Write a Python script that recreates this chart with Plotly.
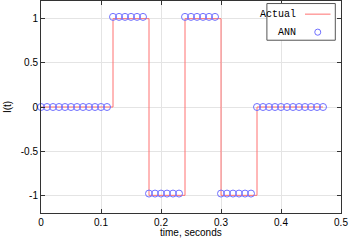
import plotly.graph_objects as go

t = [round(i * 0.01, 2) for i in range(48)]
actual = [0]*12 + [1]*6 + [-1]*6 + [1]*6 + [-1]*6 + [0]*12
ann = [0]*12 + [1.02]*6 + [-0.98]*6 + [1.02]*6 + [-0.98]*6 + [0]*12

xticks = [0, 0.1, 0.2, 0.3, 0.4, 0.5]
yticks = [-1, -0.5, 0, 0.5, 1]

fig = go.Figure()
fig.add_trace(go.Scatter(x=t, y=actual, mode="lines", line=dict(color="#ff7070", width=1, shape="hv"),
                         name="Actual", showlegend=False, cliponaxis=False))
fig.add_trace(go.Scatter(x=t, y=ann, mode="markers",
                         marker=dict(symbol="circle-open", size=7, color="#6f6fff", line=dict(width=1)),
                         name="ANN", showlegend=False, cliponaxis=False))

axis_common = dict(showline=True, linecolor="#333", linewidth=1, mirror="all", ticks="inside",
                   ticklen=4, tickcolor="#333", showgrid=True, gridcolor="#e4e4e4",
                   zeroline=False, automargin=False,
                   tickfont=dict(family="Liberation Sans", size=10, color="#000"))
fig.update_xaxes(range=[0, 0.5], tickvals=xticks, ticktext=[str(v) for v in xticks], **axis_common)
fig.update_yaxes(range=[-1.2, 1.2], tickvals=yticks, ticktext=[str(v) for v in yticks], **axis_common)

# axis titles
fig.add_annotation(xref="paper", yref="paper", x=0.5, y=-0.092, text="time, seconds", showarrow=False,
                   xanchor="center", yanchor="middle", font=dict(family="Liberation Sans", size=10, color="#000"))
fig.add_annotation(xref="paper", yref="paper", x=-0.113, y=0.5, text="I(t)", showarrow=False, textangle=-90,
                   xanchor="center", yanchor="middle", font=dict(family="Liberation Sans", size=10, color="#000"))

# legend drawn manually (text left of sample, gnuplot style)
fig.add_shape(type="rect", xref="paper", yref="paper", x0=0.753, x1=0.981, y0=0.815, y1=0.988,
              line=dict(color="#555", width=1), fillcolor="white", layer="above")
fig.add_annotation(xref="paper", yref="paper", x=0.858, y=0.938, text="Actual", showarrow=False,
                   xanchor="right", yanchor="middle", font=dict(family="Liberation Mono", size=10, color="#000"))
fig.add_shape(type="line", xref="paper", yref="paper", x0=0.88, x1=0.965, y0=0.938, y1=0.938,
              line=dict(color="#ff7070", width=1), layer="above")
fig.add_annotation(xref="paper", yref="paper", x=0.858, y=0.853, text="ANN", showarrow=False,
                   xanchor="right", yanchor="middle", font=dict(family="Liberation Mono", size=10, color="#000"))
fig.add_shape(type="circle", xref="paper", yref="paper", x0=0.9125, x1=0.9325, y0=0.8385, y1=0.8675,
              line=dict(color="#6f6fff", width=1), layer="above")

fig.update_layout(width=349, height=240, margin=dict(l=41, r=8, t=1, b=27),
                  plot_bgcolor="white", paper_bgcolor="white", showlegend=False)
fig.write_html("out.html", config={"displayModeBar": False},
               post_script="document.body.style.margin='0';document.body.style.overflow='hidden';")
